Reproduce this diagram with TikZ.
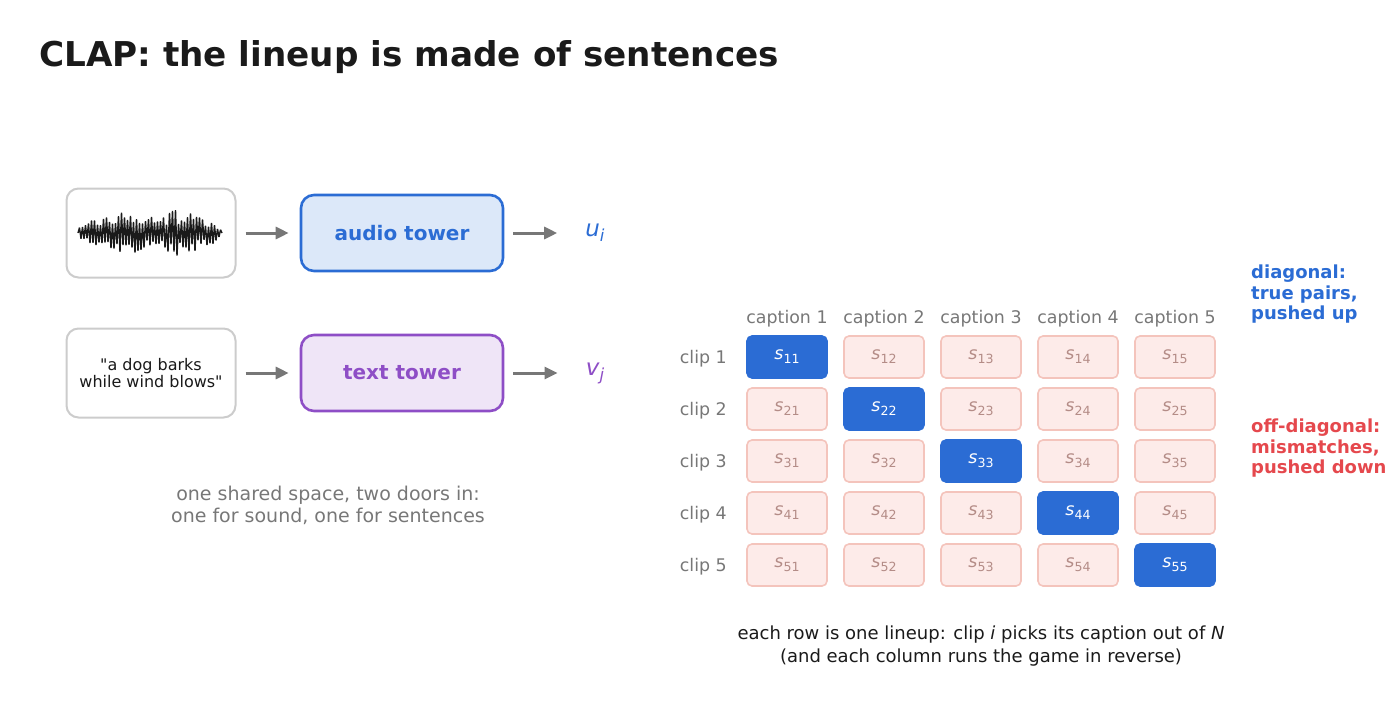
\documentclass[tikz,border=0pt]{standalone}
\usepackage{fontspec}
\setmainfont{DejaVu Sans}
\newfontfamily\rawquote{DejaVu Sans}[Ligatures=TeXOff]
\usepackage{graphicx}
\usepackage{xcolor}
\usepackage{tikz}
\usetikzlibrary{arrows.meta,positioning}

\definecolor{inkdark}{HTML}{1A1A1A}
\definecolor{inkgray}{HTML}{777777}
\definecolor{boxgray}{HTML}{CCCCCC}
\definecolor{audblue}{HTML}{2B6CD4}
\definecolor{audfill}{HTML}{DCE8F9}
\definecolor{txtpurple}{HTML}{8E4EC6}
\definecolor{txtfill}{HTML}{EFE5F7}
\definecolor{offred}{HTML}{E5484D}
\definecolor{cellfill}{HTML}{FDEBE9}
\definecolor{cellline}{HTML}{F4C4BC}
\definecolor{celltext}{HTML}{B48C87}

\newcommand{\subix}[2]{\textit{#1}\raisebox{-0.4ex}{\scalebox{0.72}{#2}}}

\begin{document}
\begin{tikzpicture}[x=1pt,y=-1pt,
    inbox/.style={draw=boxgray,fill=white,line width=2pt,rounded corners=12pt,minimum width=169pt,minimum height=89pt},
    tower/.style={line width=2.6pt,rounded corners=13pt,minimum width=202pt,minimum height=76pt,font=\fontsize{20}{24}\selectfont\bfseries},
    flow/.style={draw=inkgray,line width=3pt,-{Triangle[length=13pt,width=12pt]}},
    cell/.style={draw=cellline,fill=cellfill,line width=1.6pt,rounded corners=5pt,minimum width=80pt,minimum height=42pt,text=celltext,font=\fontsize{17.5}{20}\selectfont},
    hit/.style={cell,draw=audblue,fill=audblue,text=white},
    colhead/.style={text=inkgray,font=\fontsize{17.4}{20}\selectfont},
    note/.style={anchor=north west,align=left,inner sep=0,font=\fontsize{18}{20.5}\selectfont\bfseries}]
    \useasboundingbox (0,0) rectangle (1398,726);

    % Title
    \node[anchor=base west,inner sep=0,text=inkdark,font=\fontsize{34.2}{40}\selectfont\bfseries] (title) at (39,66) {CLAP: the lineup is made of sentences};

    % Inputs
    \node[inbox] (wav) at (151,233) {};
    \pgfmathsetseed{11}
    \draw[inkdark,line width=1.4pt,line join=bevel] (78,233) \foreach \i in {1,...,95} { -- ({78+1.5*\i},{233+(1-2*mod(\i,2))*(10+16*rnd)*pow(sin(1.875*\i),0.35)*(0.85-0.15*cos(7.5*\i))}) } -- (222,233);
    \node[inbox,align=center,text=inkdark,font=\fontsize{16}{16.5}\selectfont] (cap) at (151,373) {{\rawquote"}a dog barks\\while wind blows{\rawquote"}};

    % Towers
    \node[tower,draw=audblue,fill=audfill,text=audblue] (aud) at (402,233) {audio tower};
    \node[tower,draw=txtpurple,fill=txtfill,text=txtpurple] (txt) at (402,373) {text tower};

    % Embeddings
    \node[inner sep=0,text=audblue,font=\fontsize{23}{26}\selectfont] (u) at (595,233) {\subix{u}{\textit{i}}};
    \node[inner sep=0,text=txtpurple,font=\fontsize{23}{26}\selectfont] (v) at (595,373) {\subix{v}{\textit{j}}};

    \draw[flow,shorten <=9pt,shorten >=11pt] (wav) -- (aud);
    \draw[flow,shorten <=9pt,shorten >=11pt] (cap) -- (txt);
    \draw[flow,shorten <=9pt,shorten >=28pt] (aud) -- (u.west);
    \draw[flow,shorten <=9pt,shorten >=28pt] (txt) -- (v.west);

    \node[align=center,text=inkgray,font=\fontsize{19}{22}\selectfont] (shared) at (328,505) {one shared space, two doors in:\\one for sound, one for sentences};

    % Similarity grid
    \foreach \c in {1,...,5}
        \node[colhead] (head\c) at ({787+97*(\c-1)},319) {caption \c};
    \foreach \r in {1,...,5} {
        \node[colhead,anchor=east,inner sep=0] (clip\r) at (727,{359+52*(\r-1)}) {clip \r};
        \foreach \c in {1,...,5} {
            \ifnum\r=\c
                \node[hit] (s\r\c) at ({787+97*(\c-1)},{357+52*(\r-1)}) {\raisebox{-1.5pt}{\subix{s}{\r\c}}};
            \else
                \node[cell] (s\r\c) at ({787+97*(\c-1)},{357+52*(\r-1)}) {\raisebox{-1.5pt}{\subix{s}{\r\c}}};
            \fi
        }
    }

    % Notes
    \node[note,text=audblue] (diag) at (1251,265) {diagonal:\\true pairs,\\pushed up};
    \node[note,text=offred] (offdiag) at (1251,419) {off-diagonal:\\mismatches,\\pushed down};
    \node[align=center,text=inkdark,font=\fontsize{18}{23}\selectfont] (rule) at (981,646) {each row is one lineup: clip \textit{i} picks its caption out of \textit{N}\\(and each column runs the game in reverse)};
\end{tikzpicture}
\end{document}
